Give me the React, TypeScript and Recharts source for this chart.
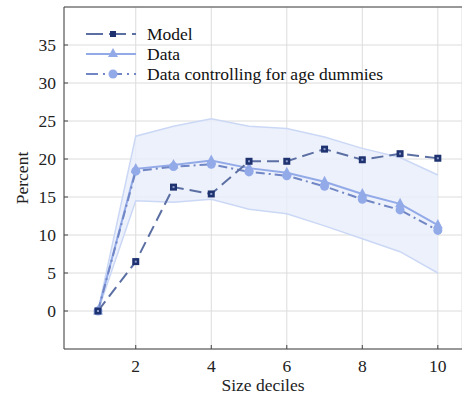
import { ComposedChart, Line, Area, XAxis, YAxis, CartesianGrid, ReferenceLine } from 'recharts';

const deciles = [1, 2, 3, 4, 5, 6, 7, 8, 9, 10];
const model = [0, 6.5, 16.3, 15.4, 19.7, 19.7, 21.3, 19.9, 20.7, 20.1];
const dataPct = [0, 18.7, 19.2, 19.8, 18.8, 18.2, 17.0, 15.4, 14.1, 11.3];
const dataAge = [0, 18.4, 19.0, 19.3, 18.3, 17.8, 16.4, 14.7, 13.3, 10.6];
const bandLow = [0, 14.5, 14.3, 14.7, 13.4, 12.8, 11.2, 9.5, 7.8, 5.0];
const bandHigh = [0, 23.0, 24.3, 25.3, 24.3, 24.0, 22.9, 21.4, 20.2, 17.9];
const yTicks = [0, 5, 10, 15, 20, 25, 30, 35];
const xTicks = [2, 4, 6, 8, 10];

const chartData = deciles.map((d, i) => ({
  decile: d,
  model: model[i],
  data: dataPct[i],
  dataAge: dataAge[i],
  band: [bandLow[i], bandHigh[i]],
}));

const FONT = 'Liberation Serif, serif';
const FS = 17.5;
const MODEL_LINE = '#5b6fa3';
const MODEL_MARK = '#1f3270';
const DATA_COLOR = '#93aae8';
const AGE_LINE = '#7186c4';

const SquareDot = (props: any) => {
  const { cx, cy } = props;
  if (cx == null || cy == null) return null;
  return (
    <g>
      <rect x={cx - 3.5} y={cy - 3.5} width={7} height={7} fill={MODEL_MARK} />
      <rect x={cx - 1} y={cy - 1} width={2} height={2} fill="#8c9ccc" />
    </g>
  );
};

const TriangleDot = (props: any) => {
  const { cx, cy } = props;
  if (cx == null || cy == null) return null;
  return <polygon points={`${cx},${cy - 6} ${cx - 5},${cy + 3.5} ${cx + 5},${cy + 3.5}`} fill={DATA_COLOR} />;
};

const CircleDot = (props: any) => {
  const { cx, cy } = props;
  if (cx == null || cy == null) return null;
  return <circle cx={cx} cy={cy} r={4.5} fill={DATA_COLOR} />;
};

function LegendBox() {
  const rows = [
    { label: 'Model', stroke: MODEL_LINE, dash: '17 6', mark: <rect x={24} y={3} width={6} height={6} fill={MODEL_MARK} /> },
    { label: 'Data', stroke: DATA_COLOR, dash: undefined, mark: <polygon points="27,0 22,9 32,9" fill={DATA_COLOR} /> },
    { label: 'Data controlling for age dummies', stroke: AGE_LINE, dash: '12 5 2 5', mark: <circle cx={27} cy={6} r={4.5} fill={DATA_COLOR} /> },
  ];
  return (
    <div style={{ position: 'absolute', left: 86, top: 24, fontFamily: FONT, fontSize: FS, color: '#111' }}>
      {rows.map((r) => (
        <div key={r.label} style={{ display: 'flex', alignItems: 'center', height: 20 }}>
          <svg width={50} height={12} style={{ marginRight: 11 }}>
            <line x1={0} y1={6} x2={50} y2={6} stroke={r.stroke} strokeWidth={2} strokeDasharray={r.dash} />
            {r.mark}
          </svg>
          <span>{r.label}</span>
        </div>
      ))}
    </div>
  );
}

export default function App() {
  return (
    <div style={{ position: 'absolute', left: 0, top: 0, width: 462, height: 397, background: '#fff' }}>
      <ComposedChart width={462} height={397} data={chartData} margin={{ top: 7, right: 0, left: 30, bottom: 0 }}>
        <CartesianGrid stroke="#dcdcdc" strokeWidth={1} />
        <XAxis
          dataKey="decile"
          type="number"
          domain={[0.1, 10.64]}
          ticks={xTicks}
          allowDataOverflow
          height={48}
          stroke="#444"
          tickSize={-4}
          tickMargin={15}
          tick={{ fill: '#222', fontSize: FS, fontFamily: FONT }}
          label={{ value: 'Size deciles', position: 'insideBottom', offset: 6, fill: '#222', fontSize: FS, fontFamily: FONT }}
        />
        <YAxis
          type="number"
          domain={[-5, 40]}
          ticks={yTicks}
          allowDataOverflow
          width={34}
          stroke="#444"
          tickSize={-4}
          tickMargin={12}
          tick={{ fill: '#222', fontSize: FS, fontFamily: FONT }}
          label={{ value: 'Percent', angle: -90, position: 'insideLeft', offset: -8, fill: '#222', fontSize: FS, fontFamily: FONT, style: { textAnchor: 'middle' } }}
        />
        <ReferenceLine y={40} stroke="#444" strokeWidth={1} />
        <Area
          dataKey="band"
          type="linear"
          stroke="#cbd8f5"
          strokeWidth={1.5}
          fill="#e9eefb"
          fillOpacity={0.8}
          isAnimationActive={false}
        />
        <Line dataKey="data" type="linear" stroke={DATA_COLOR} strokeWidth={2} dot={<TriangleDot />} isAnimationActive={false} />
        <Line dataKey="dataAge" type="linear" stroke={AGE_LINE} strokeWidth={2} strokeDasharray="9 4 2 4" dot={<CircleDot />} isAnimationActive={false} />
        <Line dataKey="model" type="linear" stroke={MODEL_LINE} strokeWidth={2} strokeDasharray="12 6" dot={<SquareDot />} isAnimationActive={false} />
      </ComposedChart>
      <LegendBox />
    </div>
  );
}
